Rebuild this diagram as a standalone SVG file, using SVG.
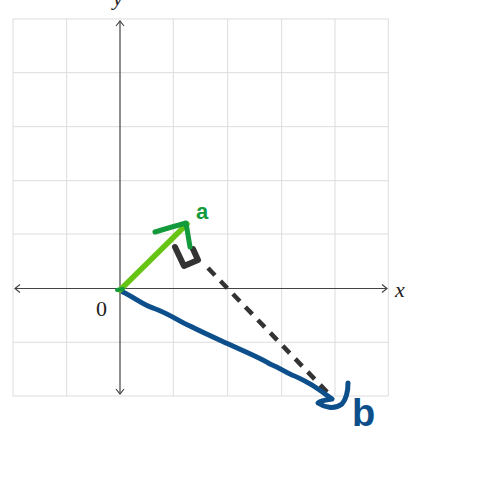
<svg xmlns="http://www.w3.org/2000/svg" width="480" height="481" viewBox="0 0 480 481">
<style>
.grid{stroke:#dcdcdc;stroke-width:1;fill:none}
.axis{stroke:#444;stroke-width:1.2;fill:none}
.lbl{font-family:"Liberation Serif",serif;font-size:22px;fill:#222}
.hand{fill:none;stroke-linecap:round;stroke-linejoin:round}
</style>
<rect width="480" height="481" fill="#fff"/>
<g id="grid">
<path class="grid" d="M13 19V396M66.7 19V396M173.3 19V396M227.7 19V396M281.7 19V396M335 19V396M388.3 19V396M13 19H388.3M13 72.7H388.3M13 126.7H388.3M13 180.7H388.3M13 234H388.3M13 342.3H388.3M13 396H388.3"/>
</g>
<g id="axes">
<path class="axis" d="M120 21V394M15 288.5H387"/>
<path class="axis" d="M116 26L120 21L124 26M116 389L120 394L124 389M20 284.5L15 288.5L20 292.5M382 284.5L387 288.5L382 292.5"/>
<text class="lbl" x="113" y="5" font-style="italic">y</text>
<text class="lbl" x="395" y="297" font-style="italic">x</text>
<text class="lbl" x="96" y="316">0</text>
</g>
<g id="connectors">
<path d="M208 268L328 393" stroke="#333" stroke-width="4.5" stroke-dasharray="10 8" fill="none"/>
<path class="hand" d="M175 247L184 266L198 260L193 249" stroke="#333" stroke-width="6"/>
<path class="hand" d="M123 292C135 298 145 306 153 308C170 314 180 322 190 326C210 336 220 340 235 347C250 354 260 358 270 364C280 368 285 372 292 375C300 378 305 381 312 385C320 390 325 394 332 399C325 400 320 401 318 403C324 407 334 410 342 404C347 398 348 390 348 383" stroke="#0d4f8b" stroke-width="5"/>
<path class="hand" d="M120 290L187 224" stroke="#66c414" stroke-width="5.5"/>
<path class="hand" d="M155 232C165 229 175 226 186 223L190 247" stroke="#139a3c" stroke-width="5"/>
<path class="hand" d="M117 290L123 289" stroke="#139a3c" stroke-width="4"/>
</g>
<g id="label-a"><text x="196" y="219" font-family="'Liberation Sans',sans-serif" font-size="22" font-weight="bold" fill="#139a3c">a</text></g>
<g id="label-b"><text x="352" y="426" font-family="'Liberation Sans',sans-serif" font-size="38" font-weight="bold" fill="#0d4f8b">b</text></g>
</svg>
